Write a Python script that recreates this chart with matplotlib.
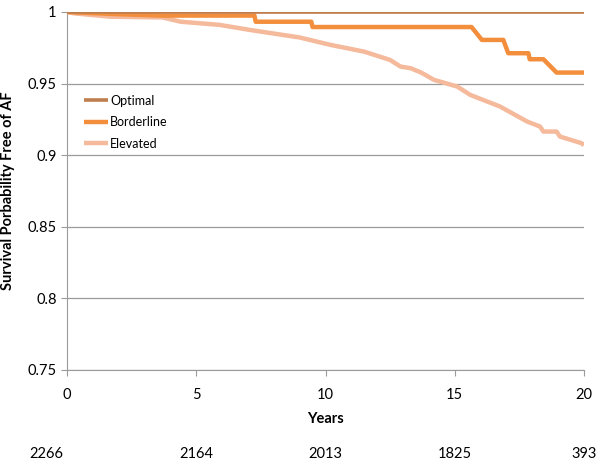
import matplotlib.pyplot as plt
from matplotlib.transforms import blended_transform_factory

plt.rcParams['font.family'] = ['Lato', 'DejaVu Sans']

# step curves (years, survival)
optimal_t = [0, 20]
optimal_s = [1.0, 1.0]

borderline_t = [0, 1.8, 3.7, 7.25, 7.3, 9.45, 9.5, 15.65, 15.85, 16.05, 16.88, 17.07,
                17.85, 17.9, 18.43, 18.94, 20]
borderline_s = [1.0, 0.9986, 0.9975, 0.9975, 0.9932, 0.9932, 0.9895, 0.9895, 0.985,
                0.9805, 0.9805, 0.9712, 0.9712, 0.967, 0.967, 0.9577, 0.9577]

elevated_t = [0, 0.3, 1.7, 3.7, 4.4, 5.9, 6.7, 7.1, 9.0, 10.2, 11.5, 12.5, 12.9, 13.3,
              13.7, 14.2, 15.1, 15.6, 16.75, 17.8, 18.3, 18.43, 18.94, 19.07, 19.9, 20]
elevated_s = [1.0, 0.999, 0.9967, 0.9962, 0.9932, 0.991, 0.9886, 0.9874, 0.9822,
              0.977, 0.9723, 0.9665, 0.9619, 0.9607, 0.9577, 0.9526, 0.9479, 0.9421,
              0.934, 0.9235, 0.920, 0.9165, 0.9165, 0.913, 0.9084, 0.907]

year_ticks = [0, 5, 10, 15, 20]
at_risk = ["2266", "2164", "2013", "1825", "393"]

fig = plt.figure(figsize=(6, 4.63), dpi=100)
ax = fig.add_axes([0.1117, 0.2009, 0.8616, 0.7732])

ax.plot(elevated_t, elevated_s, color="#F5B99B", lw=3.2, label="Elevated", zorder=3)
ax.plot(borderline_t, borderline_s, color="#F28E3C", lw=3.2, label="Borderline", zorder=4)
ax.plot(optimal_t, optimal_s, color="#C07E4E", lw=2.6, label="Optimal", zorder=5)

ax.set_xlim(0, 20)
ax.set_ylim(0.75, 1.0)
ax.set_xticks(year_ticks)
ax.set_yticks([0.75, 0.8, 0.85, 0.9, 0.95, 1.0])
ax.set_yticklabels(["0.75", "0.8", "0.85", "0.9", "0.95", "1"])
ax.yaxis.grid(True, color="#9A9A9A", lw=0.9)
ax.set_axisbelow(True)

for side in ["top", "right"]:
    ax.spines[side].set_visible(False)
for side in ["left", "bottom"]:
    ax.spines[side].set_color("#9A9A9A")
ax.tick_params(axis="both", colors="#9A9A9A", labelcolor="black", labelsize=10.5,
               length=4, direction="out")
ax.tick_params(axis="x", pad=9)

ax.set_xlabel("Years", fontsize=10.5, fontweight="bold", labelpad=7)
ax.set_ylabel("Survival Porbability Free of AF", fontsize=10.5, fontweight="bold")
ax.yaxis.set_label_coords(-0.1, 0.5)

handles, labels = ax.get_legend_handles_labels()
for h in handles:
    h.set_solid_capstyle("butt")
ax.legend(handles[::-1], labels[::-1], loc="upper left", bbox_to_anchor=(0.012, 0.8),
          frameon=False, fontsize=9, handlelength=1.9, handletextpad=0.15,
          labelspacing=0.75)

trans = blended_transform_factory(ax.transData, fig.transFigure)
for i, (t, n) in enumerate(zip(year_ticks, at_risk)):
    x = t - 0.8 if i == 0 else t
    ax.text(x, 0.02, n, transform=trans, ha="center", va="center", fontsize=10.5)

fig.savefig("out.png")
